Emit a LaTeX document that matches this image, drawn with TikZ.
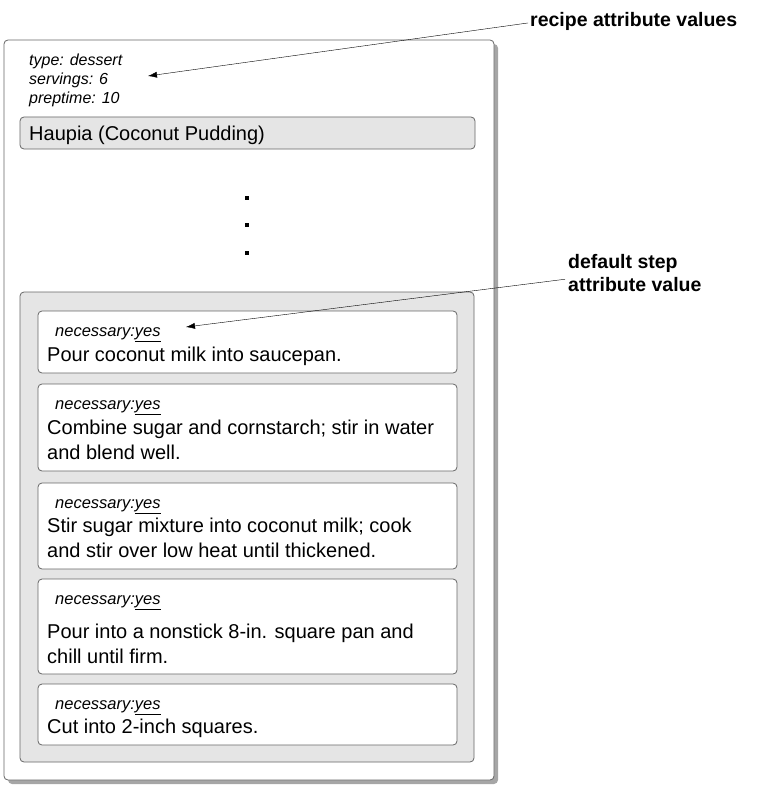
\documentclass[tikz,border=0pt]{standalone}
\usepackage{fontspec}
\setmainfont{Liberation Sans}
\usetikzlibrary{positioning,arrows.meta}
\newcommand{\stepleft}{38}
\newcommand{\stepright}{457}
\tikzset{
  panel/.style={draw=black!60,rounded corners=4pt,line width=0.8pt},
  shade/.style={fill=black!35,draw=none,rounded corners=4pt},
  stepbox/.style={panel,fill=white},
  meta/.style={anchor=base west,inner sep=0pt,font=\fontsize{16}{18}\selectfont\itshape},
  attr/.style={anchor=base west,inner sep=0pt,font=\fontsize{16.5}{18}\selectfont\itshape},
  body/.style={anchor=base west,inner sep=0pt,font=\fontsize{20}{22}\selectfont},
  callout/.style={anchor=base west,inner sep=0pt,font=\fontsize{19.5}{22}\selectfont\bfseries},
  dot/.style={fill=black,minimum size=3.5pt,inner sep=0pt,draw=none}
}
\begin{document}
\begin{tikzpicture}[x=1pt,y=-1pt]
\useasboundingbox (0,0) rectangle (758,789);

% recipe frame with shadow
\fill [shade] (8,44) rectangle (498,784);
\draw [panel,fill=white] (4,40) rectangle (494,780);

\node [meta] (type) at (29,66) {type: dessert};
\node [meta] (serv) at (29,85) {servings: 6};
\node [meta] (prep) at (29,104) {preptime: 10};

\draw [panel,fill=black!10] (20,117) rectangle (475,149);
\node [body] (title) at (29,140) {Haupia (Coconut Pudding)};

\foreach \y/\n in {198/a,225/b,253/c}
  \node [dot] (dot\n) at (247,\y) {};

% steps
\draw [panel,fill=black!10] (20,292) rectangle (474,762);

\foreach \top/\bot [count=\i] in {311/373,384/471,483/569,579/674,684/745}
  \draw [stepbox] (\stepleft,\top) rectangle (\stepright,\bot);

\node [attr] (nec1) at (55,336) {necessary:\underline{yes}};
\node [body] (s1a) at (47,361) {Pour coconut milk into saucepan.};

\node [attr] (nec2) at (55,409) {necessary:\underline{yes}};
\node [body] (s2a) at (47,434) {Combine sugar and cornstarch; stir in water};
\node [body] (s2b) at (47,459) {and blend well.};

\node [attr] (nec3) at (55,508) {necessary:\underline{yes}};
\node [body] (s3a) at (47,532) {Stir sugar mixture into coconut milk; cook};
\node [body] (s3b) at (47,557) {and stir over low heat until thickened.};

\node [attr] (nec4) at (55,604) {necessary:\underline{yes}};
\node [body] (s4a) at (47,638) {Pour into a nonstick 8-in. square pan and};
\node [body] (s4b) at (47,663) {chill until firm.};

\node [attr] (nec5) at (55,709) {necessary:\underline{yes}};
\node [body] (s5a) at (47,733) {Cut into 2-inch squares.};

% callouts
\node [callout] (recipelbl) at (530,27) {recipe attribute values};
\node [callout] (steplbl1) at (568,268) {default step};
\node [callout] (steplbl2) at (568,291) {attribute value};

\coordinate (recipetip) at (148,76);
\coordinate (steptip) at (186,327);
\draw [-{Latex[length=9pt,width=6pt]},thin] (recipelbl.west) ++(-2,1) -- (recipetip);
\draw [-{Latex[length=9pt,width=6pt]},thin] (steplbl1.south west) ++(-3,7) -- (steptip);
\end{tikzpicture}
\end{document}
